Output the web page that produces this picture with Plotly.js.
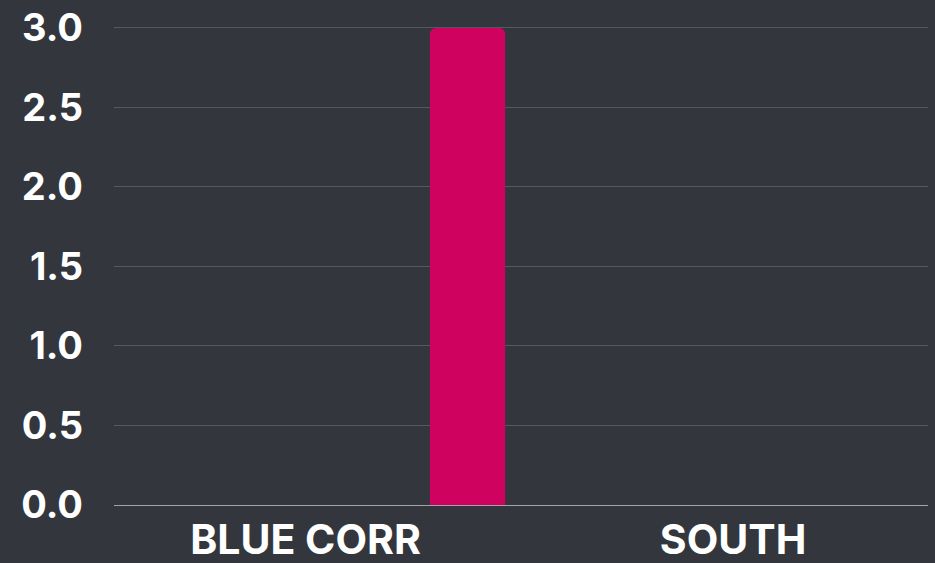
<!DOCTYPE html>
<html>
<head>
<meta charset="utf-8">
<script src="https://cdn.plot.ly/plotly-3.0.1.min.js"></script>
<style>
  html, body { margin: 0; padding: 0; background: #33363d; }
  #chart { width: 935px; height: 563px; }
</style>
</head>
<body>
<div id="chart"></div>
<script>
const categories = ['BLUE CORR', 'SOUTH'];
const values = [3, 0];
const yTickValues = [0, 0.5, 1, 1.5, 2, 2.5, 3];
const yTickLabels = ['0.0', '0.5', '1.0', '1.5', '2.0', '2.5', '3.0'];

const bg = '#33363d';
const fontFamily = 'Inter, "Open Sans", sans-serif';

const trace = {
  type: 'bar',
  x: categories,
  y: values,
  offset: 0.291,
  width: 0.176,
  marker: { color: '#d0025f', cornerradius: 6, line: { width: 0 } },
  hoverinfo: 'none'
};

const layout = {
  width: 935,
  height: 563,
  paper_bgcolor: bg,
  plot_bgcolor: bg,
  margin: { l: 114, r: 7, t: 20, b: 58 },
  showlegend: false,
  font: { family: fontFamily, color: '#ffffff' },
  xaxis: {
    type: 'category',
    range: [-0.448, 1.456],
    showgrid: false,
    zeroline: false,
    showline: false,
    ticks: '',
    ticklabelstandoff: 7,
    ticklabeloverflow: 'allow',
    tickfont: { family: fontFamily, size: 41, color: '#ffffff', weight: 'bold' },
    fixedrange: true
  },
  yaxis: {
    range: [0, 3.05],
    tickvals: yTickValues,
    ticktext: yTickLabels,
    showgrid: true,
    gridcolor: '#55585e',
    gridwidth: 1,
    zeroline: true,
    zerolinecolor: '#a3a4a7',
    zerolinewidth: 1,
    showline: false,
    ticks: '',
    ticklabelstandoff: 30,
    ticklabeloverflow: 'allow',
    tickfont: { family: fontFamily, size: 38, color: '#ffffff', weight: 'bold' },
    fixedrange: true
  }
};

Plotly.newPlot('chart', [trace], layout, { displayModeBar: false, staticPlot: true });
</script>
</body>
</html>
